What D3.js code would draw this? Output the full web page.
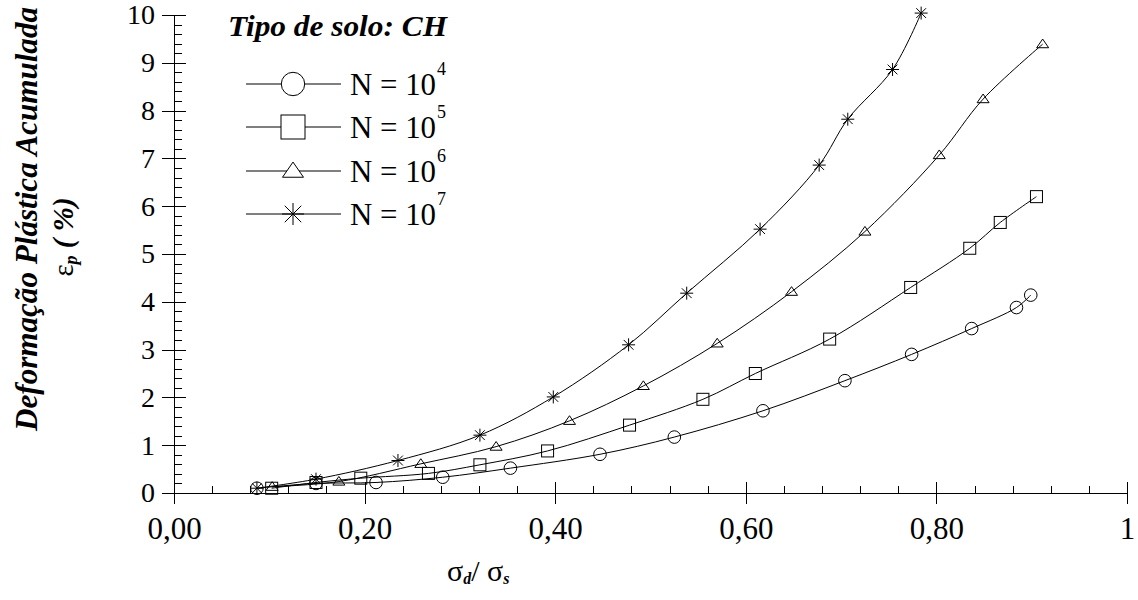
<!DOCTYPE html>
<html>
<head>
<meta charset="utf-8">
<script src="https://cdn.jsdelivr.net/npm/d3@7"></script>
<style>
  body { margin: 0; background: #fff; }
  svg { display: block; }
  svg text { font-family: "Liberation Serif", "Times New Roman", serif; }
</style>
</head>
<body>
<svg width="1138" height="600"></svg>
<script>
// values
const n4X = [0.087, 0.149, 0.212, 0.282, 0.353, 0.447, 0.525, 0.618, 0.704, 0.774, 0.837, 0.884, 0.899];
const n4Y = [0.10, 0.20, 0.22, 0.33, 0.52, 0.81, 1.17, 1.72, 2.35, 2.90, 3.44, 3.88, 4.14];

const n5X = [0.1025, 0.149, 0.196, 0.267, 0.321, 0.392, 0.478, 0.555, 0.610, 0.688, 0.773, 0.835, 0.867, 0.905];
const n5Y = [0.10, 0.22, 0.31, 0.41, 0.59, 0.88, 1.42, 1.96, 2.50, 3.22, 4.30, 5.12, 5.66, 6.20];

const n6X = [0.103, 0.173, 0.259, 0.338, 0.415, 0.4925, 0.570, 0.648, 0.725, 0.803, 0.849, 0.9115];
const n6Y = [0.13, 0.24, 0.61, 0.97, 1.51, 2.24, 3.13, 4.21, 5.47, 7.07, 8.24, 9.39];

const n7X = [0.087, 0.149, 0.235, 0.321, 0.398, 0.477, 0.538, 0.615, 0.677, 0.707, 0.754, 0.784];
const n7Y = [0.10, 0.29, 0.68, 1.21, 2.01, 3.10, 4.18, 5.52, 6.86, 7.82, 8.86, 10.04];

const seriesExp = [4, 5, 6, 7];
const seriesMarker = ['circle', 'square', 'triangle', 'star'];

const yTicks = [0, 1, 2, 3, 4, 5, 6, 7, 8, 9, 10];
const yTickLabels = ['0', '1', '2', '3', '4', '5', '6', '7', '8', '9', '10'];
const xTicks = [0, 0.2, 0.4, 0.6, 0.8, 1];
const xTickLabels = ['0,00', '0,20', '0,40', '0,60', '0,80', '1'];

const series = [
    { exp: seriesExp[0], marker: seriesMarker[0], pts: n4X.map((x, i) => ({ x, y: n4Y[i] })) },
    { exp: seriesExp[1], marker: seriesMarker[1], pts: n5X.map((x, i) => ({ x, y: n5Y[i] })) },
    { exp: seriesExp[2], marker: seriesMarker[2], pts: n6X.map((x, i) => ({ x, y: n6Y[i] })) },
    { exp: seriesExp[3], marker: seriesMarker[3], pts: n7X.map((x, i) => ({ x, y: n7Y[i] })) }
];

const svg = d3.select('svg');
const margin = { top: 15, right: 11, bottom: 107, left: 174 };
const innerWidth = 1138 - margin.left - margin.right;
const innerHeight = 600 - margin.top - margin.bottom;

const xScale = d3.scaleLinear().domain([0, 1]).range([0, innerWidth]);
const yScale = d3.scaleLinear().domain([0, 10]).range([innerHeight, 0]);

const g = svg.append('g')
    .attr('transform', `translate(${margin.left}, ${margin.top})`);

// axes
const styleAxis = sel => {
    sel.attr('font-family', null).attr('font-size', null);
    sel.selectAll('line, path').attr('stroke', '#000').attr('shape-rendering', 'crispEdges');
};

const yMinor = d3.range(0, 51).map(i => i * 0.2);
const xMinor = d3.range(0, 26).map(i => i * 0.04);

g.append('g')
    .call(d3.axisLeft(yScale).tickValues(yTicks).tickSize(12).tickSizeOuter(0).tickPadding(7)
        .tickFormat((d, i) => yTickLabels[i]))
    .call(styleAxis)
    .selectAll('text').attr('font-size', 28).attr('fill', '#000');
g.append('g')
    .call(d3.axisRight(yScale).tickValues(yTicks).tickSize(12).tickSizeOuter(0).tickFormat(''))
    .call(styleAxis);
g.append('g')
    .call(d3.axisRight(yScale).tickValues(yMinor).tickSize(8).tickSizeOuter(0).tickFormat(''))
    .call(styleAxis);

g.append('g')
    .attr('transform', `translate(0, ${innerHeight})`)
    .call(d3.axisBottom(xScale).tickValues(xTicks).tickSize(11).tickSizeOuter(0).tickPadding(13)
        .tickFormat((d, i) => xTickLabels[i]))
    .call(styleAxis)
    .selectAll('text').attr('font-size', 31).attr('fill', '#000');
g.append('g')
    .attr('transform', `translate(0, ${innerHeight})`)
    .call(d3.axisTop(xScale).tickValues(xTicks).tickSize(11).tickSizeOuter(0).tickFormat(''))
    .call(styleAxis);
g.append('g')
    .attr('transform', `translate(0, ${innerHeight})`)
    .call(d3.axisTop(xScale).tickValues(xMinor).tickSize(7).tickSizeOuter(0).tickFormat(''))
    .call(styleAxis);

// markers
const drawMarker = (sel, type, s, fill) => {
    if (type === 'circle') {
        sel.append('circle').attr('r', s).attr('fill', fill).attr('stroke', '#000');
    } else if (type === 'square') {
        sel.append('rect').attr('x', -s).attr('y', -s).attr('width', 2 * s).attr('height', 2 * s)
            .attr('fill', fill).attr('stroke', '#000');
    } else if (type === 'triangle') {
        const w = s, h = s * 0.85;
        sel.append('path').attr('d', `M0,${-h}L${w},${h * 0.7}L${-w},${h * 0.7}Z`)
            .attr('fill', fill).attr('stroke', '#000');
    } else {
        const a = s * 0.75;
        sel.append('path')
            .attr('d', `M0,${-s}L0,${s}M${-s},0L${s},0M${-a},${-a}L${a},${a}M${-a},${a}L${a},${-a}`)
            .attr('fill', 'none').attr('stroke', '#000');
    }
};

const line = d3.line()
    .x(d => xScale(d.x))
    .y(d => yScale(d.y))
    .curve(d3.curveCatmullRom.alpha(0.5));

const sizes = { circle: 6.3, square: 6, triangle: 6, star: 6.5 };
series.forEach(s => {
    g.append('path')
        .datum(s.pts)
        .attr('d', line)
        .attr('fill', 'none')
        .attr('stroke', '#000')
        .attr('stroke-width', 1);
    g.selectAll(null).data(s.pts)
        .enter().append('g')
            .attr('transform', d => `translate(${xScale(d.x)}, ${yScale(d.y)})`)
            .each(function () { drawMarker(d3.select(this), s.marker, sizes[s.marker], 'none'); });
});

// legend
svg.append('text')
    .attr('x', 228).attr('y', 36)
    .attr('font-size', 29).attr('font-weight', 'bold').attr('font-style', 'italic')
    .attr('textLength', 219).attr('lengthAdjust', 'spacingAndGlyphs')
    .text('Tipo de solo: CH');

const legendY = [84, 127, 171, 214];
const legendSizes = { circle: 11.7, square: 12, triangle: 10.5, star: 11 };
series.forEach((s, i) => {
    const lg = svg.append('g').attr('transform', `translate(0, ${legendY[i]})`);
    lg.append('line').attr('x1', 246).attr('x2', 341).attr('y1', 0).attr('y2', 0).attr('stroke', '#000');
    const m = lg.append('g').attr('transform', 'translate(293, 0)');
    drawMarker(m, s.marker, legendSizes[s.marker], '#fff');
    lg.append('text').attr('x', 350).attr('y', 11).attr('font-size', 31)
        .attr('textLength', 86).attr('lengthAdjust', 'spacingAndGlyphs').text('N = 10');
    lg.append('text').attr('x', 437).attr('y', -9).attr('font-size', 18).text(s.exp);
});

// axis titles
const xt = svg.append('text').attr('x', 447).attr('y', 581).attr('font-size', 30);
xt.append('tspan').text('σ');
xt.append('tspan').attr('font-size', 16).attr('font-style', 'italic').attr('font-weight', 'bold').attr('dy', 3).text('d');
xt.append('tspan').attr('dy', -3).text('/ σ');
xt.append('tspan').attr('font-size', 16).attr('font-style', 'italic').attr('font-weight', 'bold').attr('dy', 3).text('s');

svg.append('text')
    .attr('transform', 'translate(37, 219) rotate(-90)')
    .attr('text-anchor', 'middle')
    .attr('font-size', 32).attr('font-weight', 'bold').attr('font-style', 'italic')
    .attr('textLength', 424).attr('lengthAdjust', 'spacingAndGlyphs')
    .text('Deformação Plástica Acumulada');

const yt = svg.append('text')
    .attr('transform', 'translate(73, 237) rotate(-90)')
    .attr('text-anchor', 'middle')
    .attr('font-size', 29).attr('font-weight', 'bold');
yt.append('tspan').attr('font-weight', 'normal').text('ε');
yt.append('tspan').attr('font-size', 18).attr('font-style', 'italic').attr('dy', 4).text('p');
yt.append('tspan').attr('font-style', 'italic').attr('dy', -4).text(' ( %)');
</script>
</body>
</html>
